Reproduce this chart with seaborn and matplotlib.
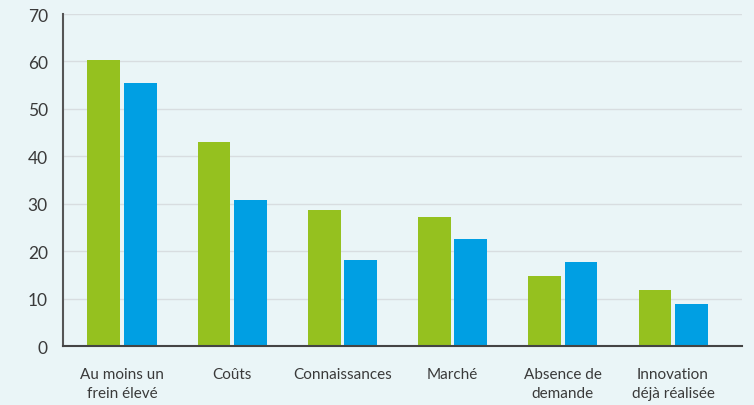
import matplotlib
matplotlib.use("Agg")
import matplotlib.pyplot as plt
import seaborn as sns
import pandas as pd

categories = ["Au moins un\nfrein élevé", "Coûts", "Connaissances", "Marché",
              "Absence de\ndemande", "Innovation\ndéjà réalisée"]
series_names = ["Série 1", "Série 2"]
values_green = [60.3, 43.0, 28.7, 27.2, 14.8, 11.8]
values_blue = [55.4, 30.8, 18.1, 22.6, 17.7, 8.9]
y_ticks = [0, 10, 20, 30, 40, 50, 60, 70]

df = pd.DataFrame({
    "cat": categories * 2,
    "serie": [series_names[0]] * 6 + [series_names[1]] * 6,
    "val": values_green + values_blue,
})

sns.set_theme(style="white")
plt.rcParams['font.family'] = ['Lato', 'DejaVu Sans']

bg = "#eaf5f7"
fig = plt.figure(figsize=(7.54, 4.06), dpi=100, facecolor=bg)
ax = fig.add_axes([0.0836, 0.1453, 0.9004, 0.8177])
ax.set_facecolor(bg)

sns.barplot(data=df, x="cat", y="val", hue="serie", order=categories,
            hue_order=series_names, palette=["#95c11f", "#009fe3"],
            width=0.66, gap=0.1, legend=False, ax=ax, saturation=1,
            edgecolor="none")

ax.set_xlim(-0.535, 5.625)
ax.set_ylim(0, 70)
ax.set_yticks(y_ticks)
ax.set_yticklabels([str(t) for t in y_ticks], fontsize=12.5, color="#3a3a3a")
ax.tick_params(axis="y", length=0, pad=11)
ax.tick_params(axis="x", length=0, pad=15)
for lab in ax.get_xticklabels():
    lab.set_fontsize(11)
    lab.set_color("#3a3a3a")
    lab.set_linespacing(1.45)
ax.set_xlabel("")
ax.set_ylabel("")
ax.grid(axis="y", color="#d8dde0", linewidth=1)
ax.set_axisbelow(True)
for s in ["top", "right"]:
    ax.spines[s].set_visible(False)
ax.spines["left"].set_color("#555555")
ax.spines["left"].set_linewidth(1.5)
ax.spines["bottom"].set_color("#444444")
ax.spines["bottom"].set_linewidth(1.5)

fig.savefig("out.png", dpi=100, facecolor=bg)
